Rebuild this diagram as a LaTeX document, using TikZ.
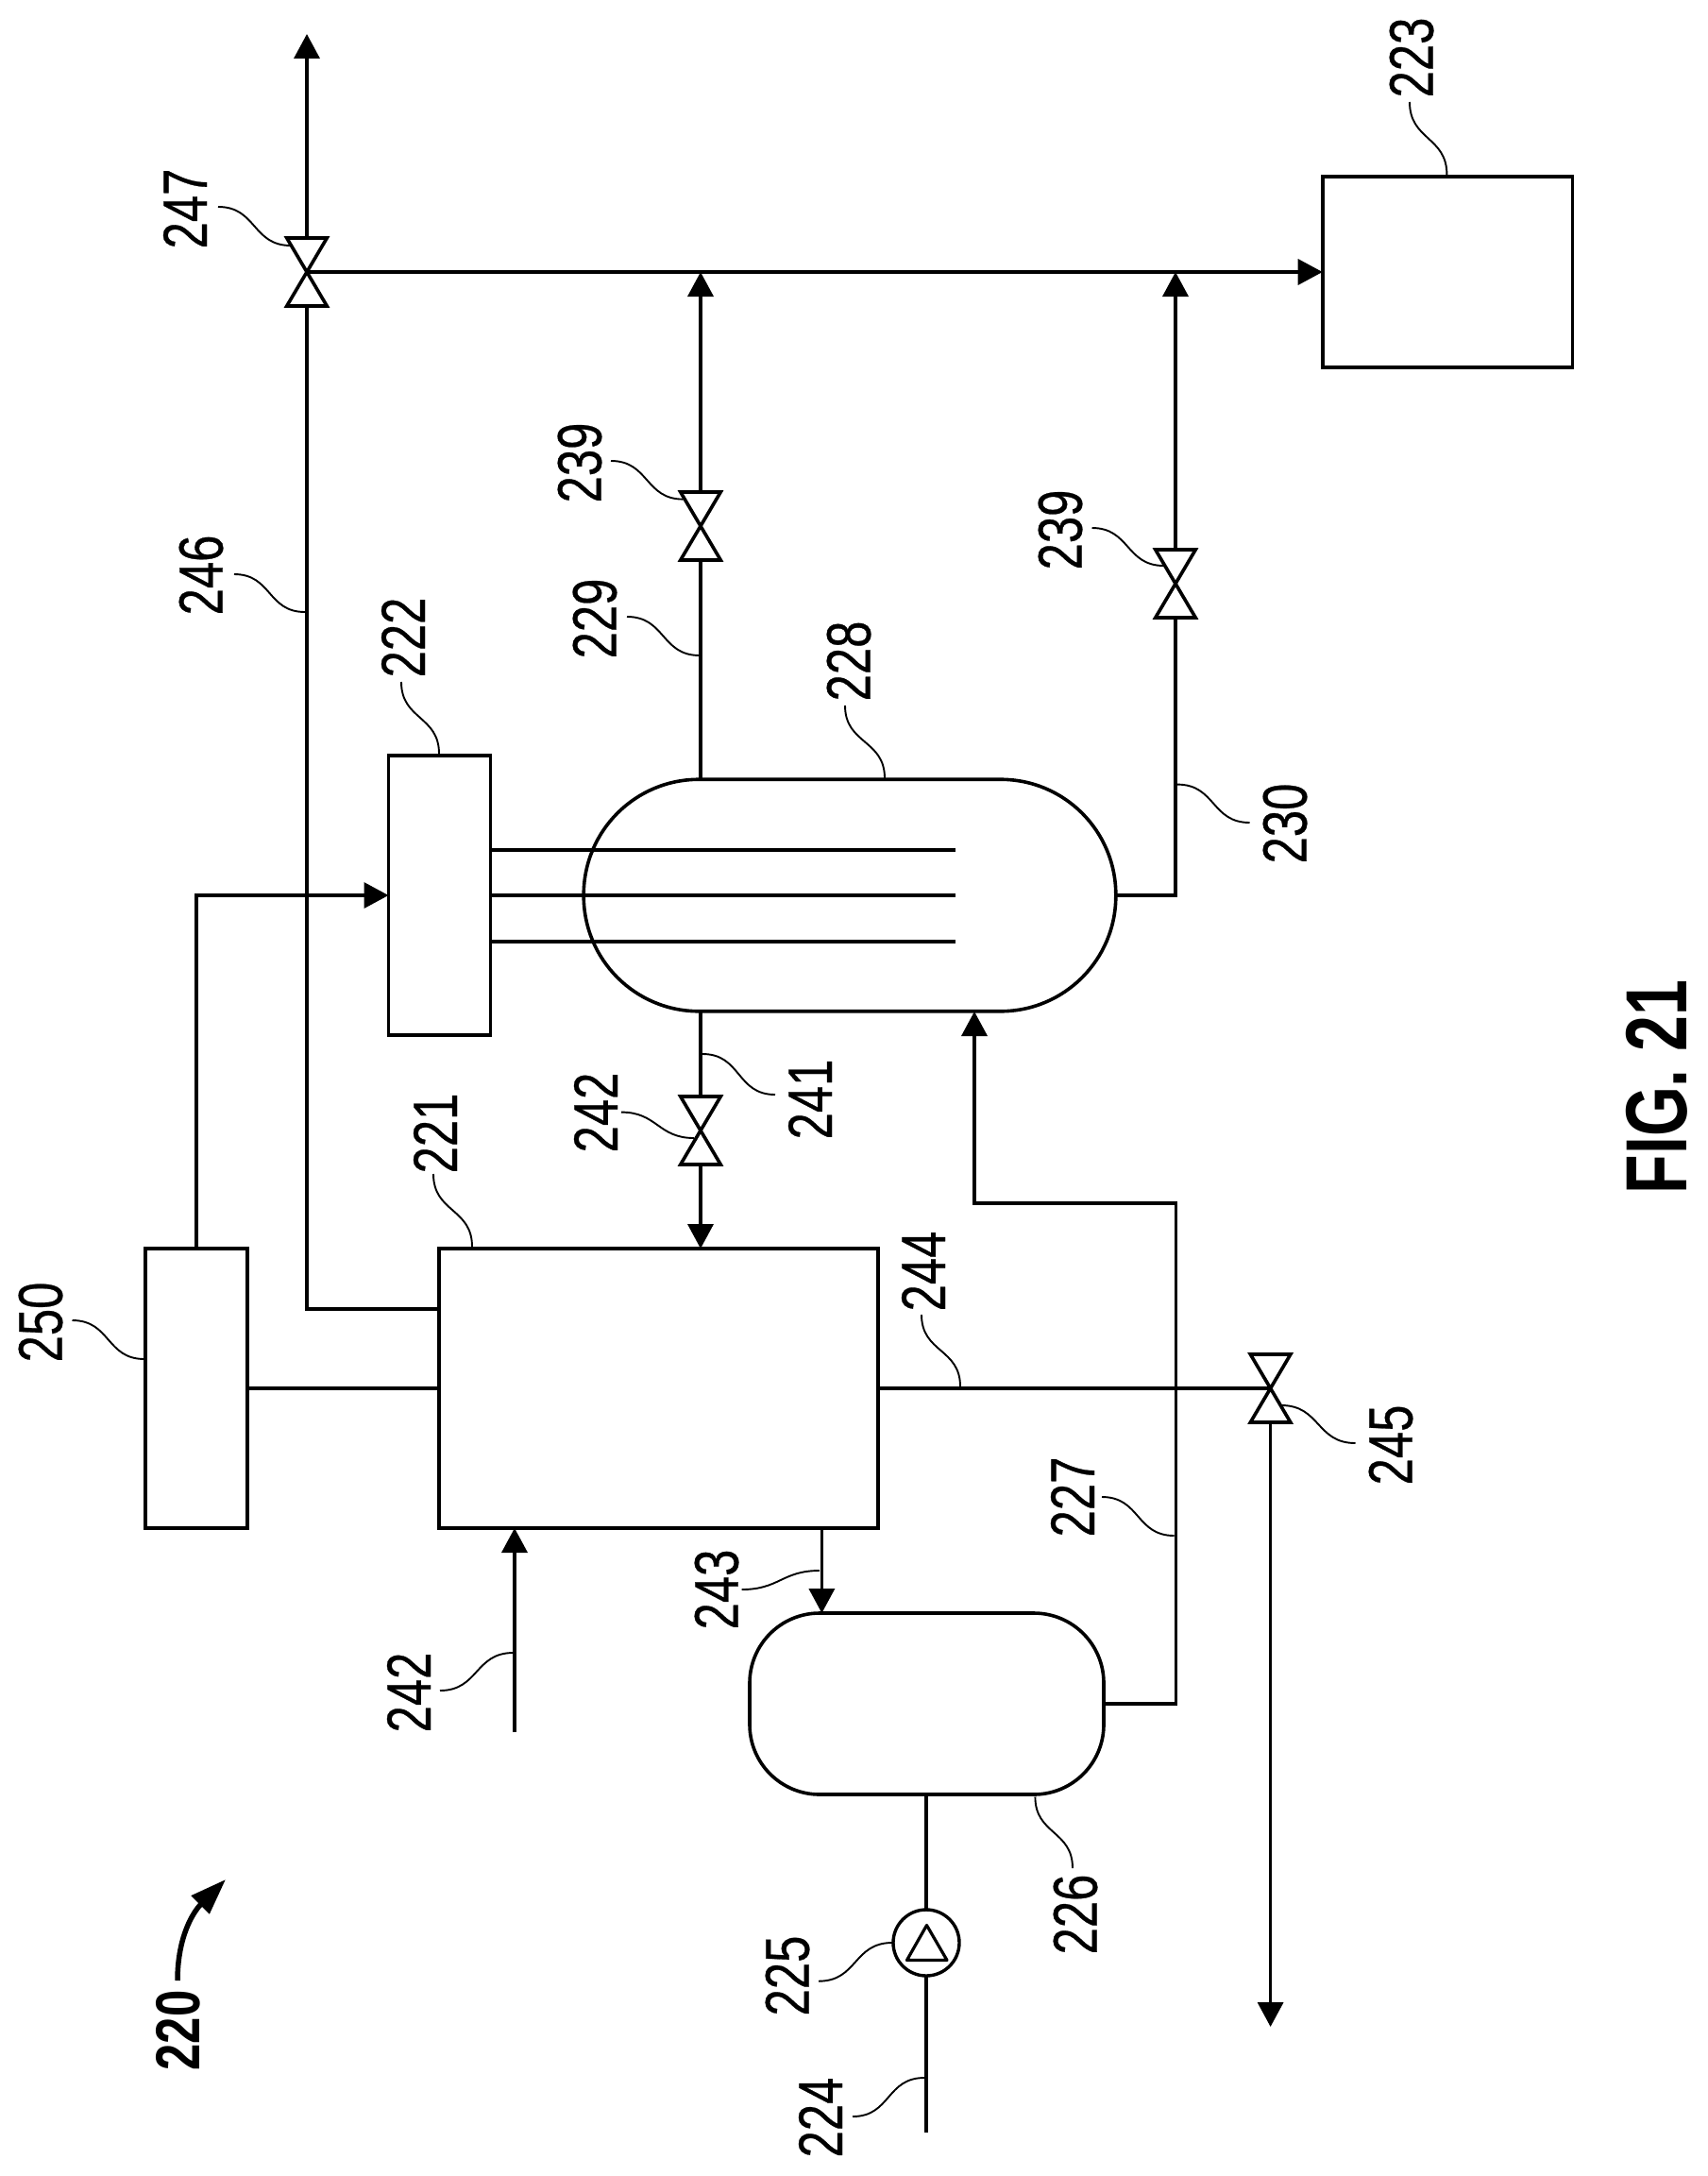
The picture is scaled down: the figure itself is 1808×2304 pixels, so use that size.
\documentclass[tikz,border=0pt]{standalone}
\usepackage{graphicx}
\usepackage{fontspec}
\setmainfont{Liberation Sans}
\newfontfamily\labfont{Liberation Sans}[FakeBold=0.5]
\usetikzlibrary{arrows.meta}
\tikzset{
  pipe/.style={line width=3.6pt},
  flow/.style={line width=3.6pt,-{Triangle[length=26pt,width=27pt]}},
  unit/.style={draw,line width=3.6pt,inner sep=0pt,outer sep=0pt,rectangle},
  valvebox/.style={inner sep=0pt,outer sep=0pt,minimum width=42.5pt,minimum height=72pt,rectangle},
  valveline/.style={line width=3.6pt,line join=miter},
  leader/.style={line width=1.9pt},
  lbl/.style={inner sep=0pt,outer sep=0pt,rotate=90,font=\labfont\fontsize{66}{66}\selectfont},
  lblb/.style={inner sep=0pt,outer sep=0pt,rotate=90,font=\fontsize{66}{66}\selectfont\bfseries},
}
\newcommand{\LH}[3]{\coordinate (#1a) at (#2); \coordinate (#1b) at (#3); \draw[leader] (#1a) to[out=0,in=180,looseness=1.2] (#1b);}
\newcommand{\LV}[3]{\coordinate (#1a) at (#2); \coordinate (#1b) at (#3); \draw[leader] (#1a) to[out=-90,in=90,looseness=1.2] (#1b);}
\newcommand{\LB}[3]{\node[lbl] (#1) at (#2) {\scalebox{.77}[1]{#3}};}
\newcommand{\VALVE}[2]{\node[valvebox] (#1) at (#2) {}; \draw[valveline] (#1.north west) -- (#1.north east) -- (#1.south west) -- (#1.south east) -- cycle;}
\begin{document}
\begin{tikzpicture}[x=1pt,y=-1pt]
\useasboundingbox (0,0) rectangle (1808,2304);
% units
\node[unit,minimum width=264.6pt,minimum height=202pt] (u223) at (1533,288) {};
\node[unit,minimum width=108pt,minimum height=296.5pt] (u222) at (465.5,948) {};
\node[unit,minimum width=107.5pt,minimum height=296pt] (u250) at (208,1470) {};
\node[unit,minimum width=465pt,minimum height=296pt] (u221) at (697.5,1470) {};
\node[unit,rounded corners=122pt,minimum width=563.6pt,minimum height=245.5pt] (u228) at (900,948) {};
\node[unit,rounded corners=74pt,minimum width=375pt,minimum height=192pt] (u226) at (981.5,1804) {};
\node[draw,circle,line width=3.4pt,inner sep=0pt,outer sep=0pt,minimum size=70pt] (u225) at (981,2057) {};
\draw[line width=3.2pt,line join=round] (981.5,2038.5) -- (960.5,2075.5) -- (1003,2075.5) -- cycle;
% valves
\VALVE{v247}{325,288}
\VALVE{v239a}{742,557}
\VALVE{v239b}{1245,618}
\VALVE{v242}{742,1197}
\VALVE{v245}{1345.6,1470}
% free ends
\coordinate (topout) at (325,36);
\coordinate (j246) at (465,1386);
\coordinate (c227) at (1245.4,1274);
\coordinate (in228) at (1032,1071);
\coordinate (a243) at (870.4,1618);
\coordinate (in242) at (545,1834);
\coordinate (out245) at (1345.6,2146);
\coordinate (end224) at (981,2258);
\coordinate (t1) at (1012,900);
\coordinate (t2) at (1012,948);
\coordinate (t3) at (1012,997);
% connectors
\draw[flow] (v247.north) -- (topout);
\draw[flow] (v247.center) -- (u223.west);
\draw[pipe] (v247.south) |- (j246);
\draw[flow] (v239a.north) -- (v239a.north |- v247.center);
\draw[pipe] (v239a.south) -- (v239a.south |- u228.north);
\draw[pipe] (u228.east) -| (v239b.south);
\draw[flow] (v239b.north) -- (v239b.north |- v247.center);
\draw[pipe] (v242.north) -- (v242.north |- u228.south);
\draw[flow] (v242.south) -- (v242.south |- u221.north);
\draw[flow] (u250.north) |- (u222.west);
\draw[pipe] (u250.east) -- (u221.west);
\draw[pipe] (u221.east) -- (v245.center);
\draw[flow] (v245.south) -- (out245);
\draw[flow] (u226.east) -| (c227) -| (in228);
\draw[flow] (a243) -- (a243 |- u226.north);
\draw[flow] (in242) -- (in242 |- u221.south);
\draw[pipe] (u225.north) -- (u225.north |- u226.south);
\draw[pipe] (u225.south) -- (end224);
\draw[pipe] (u222.east |- t1) -- (t1);
\draw[pipe] (u222.east |- t2) -- (t2);
\draw[pipe] (u222.east |- t3) -- (t3);
% leaders
\LH{l247}{231,219}{308,260}
\LH{l246}{248,608}{323,648}
\LV{l222}{425,722}{465,798}
\LH{l239a}{647,488}{723.5,528.6}
\LH{l229}{664,653}{741,694}
\LV{l228}{895,747}{937,824}
\LV{l223}{1493,108}{1532.4,185}
\LH{l239b}{1156.5,559}{1232.6,599}
\LH{l230}{1247,830.6}{1323.5,871}
\LH{l241}{744,1116}{821,1159}
\LH{l242a}{658,1177.6}{735,1205}
\LV{l221}{459,1243}{500,1320}
\LH{l250}{76.5,1398}{153,1439}
\LV{l244}{976,1392}{1017,1468}
\LH{l245}{1357,1488}{1435.5,1528}
\LH{l227}{1167,1585}{1243.6,1626}
\LH{l243}{785.7,1683}{868,1663}
\LH{l242b}{466,1790}{543.6,1750}
\LV{l226}{1096.4,1902.5}{1136,1978}
\LH{l225}{867,2097.7}{945,2057}
\LH{l224}{903,2241}{979,2200}
% labels
\LB{t247}{196,221}{247}
\LB{t246}{213,609}{246}
\LB{t222}{427,675}{222}
\LB{t239a}{614,490}{239}
\LB{t229}{630,655}{229}
\LB{t228}{899,700}{228}
\LB{t223}{1495,61}{223}
\LB{t239b}{1123,561}{239}
\LB{t230}{1361,872}{230}
\LB{t241}{858,1164}{241}
\LB{t242a}{631,1178}{242}
\LB{t221}{461,1200}{221}
\LB{t250}{43,1400}{250}
\LB{t244}{978,1346}{244}
\LB{t245}{1473,1530}{245}
\LB{t227}{1136,1585}{227}
\LB{t243}{759,1683}{243}
\LB{t242b}{433,1792}{242}
\LB{t226}{1139,2027}{226}
\LB{t225}{834,2092}{225}
\LB{t224}{869,2242}{224}
\node[lblb] (t220) at (189,2150) {\scalebox{.77}[1]{220}};
\coordinate (a220) at (188,2097);
\coordinate (b220) at (239,1990);
\draw[line width=5.5pt,-{Triangle[length=38pt,width=26pt]}] (a220) .. controls (188,2050) and (205,2024) .. (b220);
\node[inner sep=0pt,outer sep=0pt,rotate=90,font=\fontsize{92}{92}\selectfont\bfseries] (fig) at (1754.5,1151) {\scalebox{.74}[1]{FIG. 21}};
\end{tikzpicture}
\end{document}
